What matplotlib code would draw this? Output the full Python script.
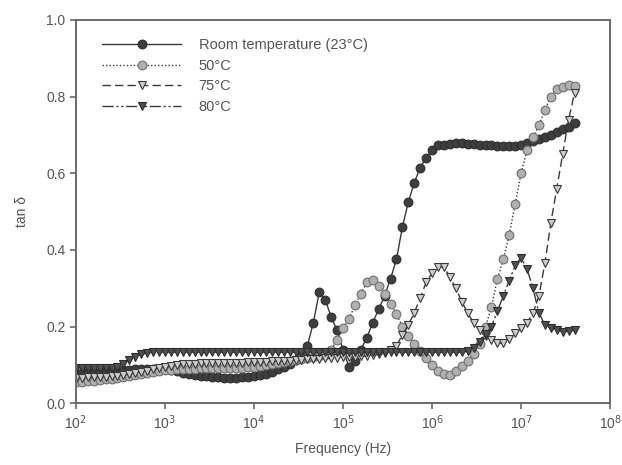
import numpy as np
import matplotlib
matplotlib.use("Agg")
import matplotlib.pyplot as plt

plt.rcParams["font.family"] = ["Liberation Sans", "DejaVu Sans"]

# sweep: 15 points per decade, 1e2 .. 4e7 Hz
freq = np.logspace(2, 7.6, 85)

labels = ["Room temperature (23°C)", "50°C", "75°C", "80°C"]

tan_rt = [
    0.080, 0.080, 0.081, 0.081, 0.082, 0.083, 0.084, 0.085, 0.086, 0.087,
    0.088, 0.089, 0.090, 0.090, 0.090, 0.089, 0.087, 0.084, 0.080, 0.077,
    0.074, 0.072, 0.070, 0.068, 0.067, 0.066, 0.066, 0.066, 0.067, 0.068,
    0.070, 0.073, 0.077, 0.082, 0.088, 0.095, 0.103, 0.112, 0.122, 0.150,
    0.210, 0.290, 0.270, 0.225, 0.190, 0.140, 0.095, 0.110, 0.140, 0.170,
    0.210, 0.245, 0.280, 0.325, 0.375, 0.460, 0.525, 0.575, 0.615, 0.640,
    0.660, 0.673, 0.675, 0.677, 0.678, 0.678, 0.677, 0.676, 0.675, 0.674,
    0.673, 0.672, 0.671, 0.670, 0.672, 0.675, 0.680, 0.685, 0.690, 0.695,
    0.700, 0.708, 0.715, 0.722, 0.730,
]
tan_50 = [
    0.055, 0.056, 0.057, 0.058, 0.060, 0.062, 0.064, 0.066, 0.068, 0.071,
    0.074, 0.077, 0.080, 0.082, 0.084, 0.086, 0.087, 0.088, 0.089, 0.090,
    0.090, 0.091, 0.091, 0.091, 0.091, 0.091, 0.091, 0.092, 0.093, 0.094,
    0.095, 0.097, 0.099, 0.101, 0.104, 0.107, 0.110, 0.113, 0.116, 0.118,
    0.120, 0.122, 0.125, 0.140, 0.165, 0.195, 0.220, 0.255, 0.285, 0.315,
    0.322, 0.305, 0.285, 0.260, 0.232, 0.200, 0.175, 0.155, 0.135, 0.118,
    0.100, 0.084, 0.076, 0.073, 0.083, 0.096, 0.110, 0.128, 0.155, 0.200,
    0.250, 0.325, 0.375, 0.440, 0.520, 0.600, 0.660, 0.695, 0.725, 0.765,
    0.800, 0.820, 0.826, 0.830, 0.828,
]
tan_75 = [
    0.066, 0.066, 0.067, 0.067, 0.068, 0.069, 0.070, 0.072, 0.074, 0.076,
    0.079, 0.082, 0.085, 0.088, 0.091, 0.094, 0.097, 0.099, 0.101, 0.102,
    0.103, 0.104, 0.104, 0.105, 0.105, 0.105, 0.105, 0.106, 0.106, 0.107,
    0.107, 0.108, 0.108, 0.109, 0.110, 0.110, 0.111, 0.112, 0.113, 0.114,
    0.115, 0.116, 0.117, 0.118, 0.119, 0.120, 0.120, 0.121, 0.122, 0.123,
    0.125, 0.127, 0.130, 0.138, 0.150, 0.178, 0.205, 0.235, 0.275, 0.315,
    0.340, 0.355, 0.355, 0.330, 0.300, 0.265, 0.235, 0.210, 0.190, 0.175,
    0.165, 0.156, 0.157, 0.168, 0.183, 0.195, 0.210, 0.235, 0.280, 0.365,
    0.470, 0.560, 0.650, 0.740, 0.810,
]
tan_80 = [
    0.092, 0.092, 0.092, 0.092, 0.092, 0.092, 0.092, 0.095, 0.103, 0.112,
    0.120, 0.127, 0.131, 0.133, 0.133, 0.133, 0.133, 0.133, 0.133, 0.133,
    0.133, 0.133, 0.133, 0.133, 0.133, 0.133, 0.133, 0.133, 0.133, 0.133,
    0.133, 0.133, 0.133, 0.133, 0.133, 0.133, 0.133, 0.133, 0.133, 0.133,
    0.133, 0.133, 0.133, 0.133, 0.133, 0.133, 0.133, 0.133, 0.133, 0.133,
    0.133, 0.133, 0.133, 0.133, 0.133, 0.133, 0.133, 0.133, 0.133, 0.133,
    0.133, 0.133, 0.133, 0.133, 0.133, 0.133, 0.135, 0.145, 0.160, 0.180,
    0.200, 0.240, 0.280, 0.320, 0.360, 0.380, 0.350, 0.300, 0.235, 0.205,
    0.195, 0.190, 0.187, 0.188, 0.190,
]

series = [tan_rt, tan_50, tan_75, tan_80]
styles = [
    dict(ls="-", marker="o", mfc="#3e3e3e", mec="#2e2e2e"),
    dict(ls=(0, (1, 1.5)), marker="o", mfc="#b0b0b0", mec="#707070"),
    dict(ls=(0, (6, 3)), marker="v", mfc="#cdcdcd", mec="#3a3a3a"),
    dict(ls=(0, (8, 2, 1.5, 2, 1.5, 2)), marker="v", mfc="#505050", mec="#2e2e2e"),
]

fig = plt.figure(figsize=(6.22, 4.65), dpi=100)
ax = fig.add_axes([0.122, 0.133, 0.859, 0.824])

for y, lab, st in zip(series, labels, styles):
    ax.plot(freq, y, color="#3a3a3a", lw=1.0, ms=6.3, mew=0.8, label=lab, **st)

ax.set_xscale("log")
ax.set_xlim(1e2, 1e8)
ax.set_ylim(0, 1.0)
ax.set_xticks([10.0 ** k for k in range(2, 9)])
ax.set_xticklabels([f"10$^{k}$" for k in range(2, 9)])
ax.xaxis.set_minor_locator(matplotlib.ticker.NullLocator())
ax.set_yticks(np.arange(0, 1.01, 0.2))
ax.yaxis.set_major_formatter(matplotlib.ticker.FormatStrFormatter("%.1f"))

grey = "#555555"
for s in ax.spines.values():
    s.set_color("#6a6a6a")
    s.set_linewidth(1.4)
ax.tick_params(direction="out", length=4, width=1.2, color="#6a6a6a",
               labelcolor=grey, labelsize=10, top=False, right=False)
ax.set_xlabel("Frequency (Hz)", color=grey, fontsize=10, labelpad=7)
ax.set_ylabel("tan δ", color=grey, fontsize=10, labelpad=12)

leg = ax.legend(loc="upper left", bbox_to_anchor=(0.025, 0.987), frameon=False,
                fontsize=10.5, handlelength=5.4, handletextpad=1.2,
                labelspacing=0.45)
for t in leg.get_texts():
    t.set_color(grey)

fig.savefig("out.png", dpi=100)
